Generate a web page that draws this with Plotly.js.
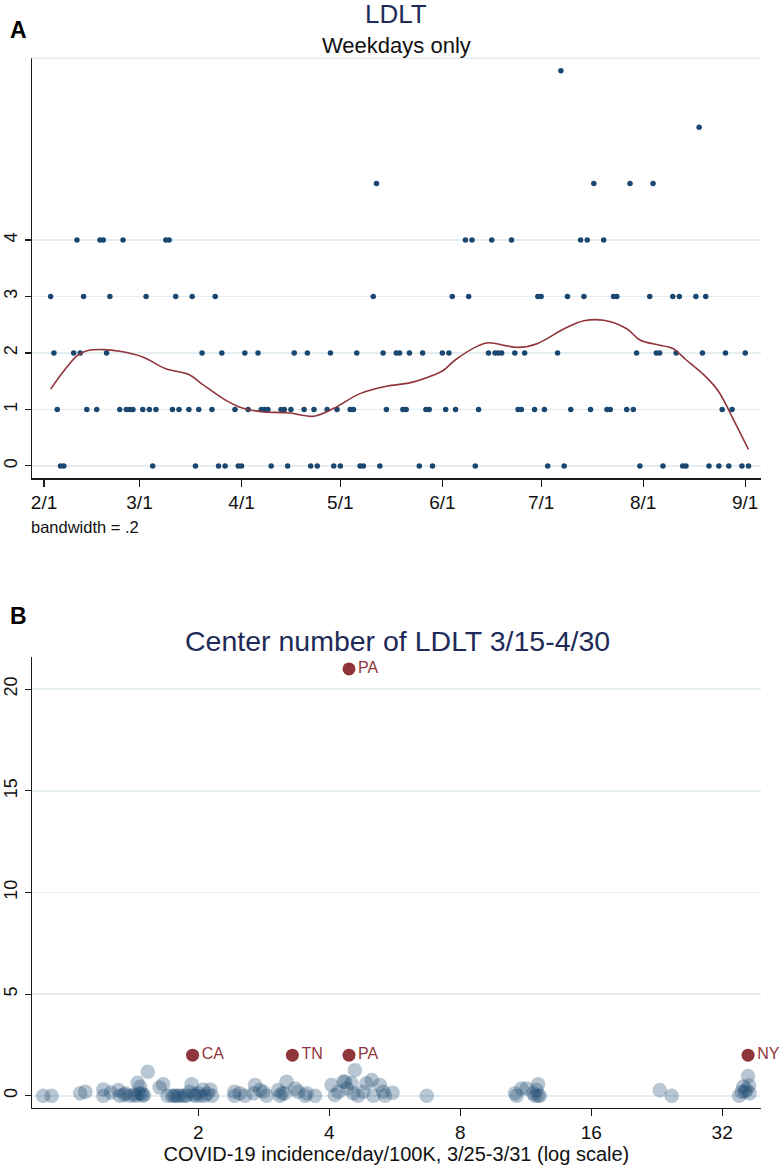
<!DOCTYPE html>
<html>
<head>
<meta charset="utf-8">
<script src="https://cdn.plot.ly/plotly-3.0.1.min.js"></script>
<style>
  html, body { margin: 0; padding: 0; background: #fff; }
  #plot { width: 780px; height: 1165px; }
</style>
</head>
<body>
<div id="plot"></div>
<script>
// Panel A: daily LDLT counts (weekdays), grouped by count
const days0 = ['2020-02-06','2020-02-07','2020-03-05','2020-03-18','2020-03-25','2020-03-27','2020-03-31','2020-04-01','2020-04-10','2020-04-15','2020-04-22','2020-04-24','2020-04-29','2020-05-01','2020-05-07','2020-05-08','2020-05-13','2020-05-25','2020-05-29','2020-06-11','2020-07-03','2020-07-08','2020-07-31','2020-08-07','2020-08-13','2020-08-14','2020-08-21','2020-08-24','2020-08-27','2020-08-31','2020-09-02'];
const days1 = ['2020-02-05','2020-02-14','2020-02-17','2020-02-24','2020-02-26','2020-02-27','2020-02-28','2020-03-02','2020-03-04','2020-03-06','2020-03-11','2020-03-13','2020-03-16','2020-03-19','2020-03-23','2020-03-30','2020-04-03','2020-04-07','2020-04-08','2020-04-09','2020-04-13','2020-04-14','2020-04-16','2020-04-20','2020-04-23','2020-04-27','2020-04-30','2020-05-04','2020-05-05','2020-05-15','2020-05-20','2020-05-21','2020-05-27','2020-05-28','2020-06-02','2020-06-05','2020-06-12','2020-06-24','2020-06-25','2020-06-29','2020-07-02','2020-07-10','2020-07-16','2020-07-21','2020-07-22','2020-07-27','2020-07-29','2020-08-25','2020-08-28'];
const days2 = ['2020-02-04','2020-02-10','2020-02-12','2020-02-20','2020-03-20','2020-03-26','2020-04-02','2020-04-06','2020-04-17','2020-04-21','2020-04-28','2020-05-06','2020-05-14','2020-05-18','2020-05-19','2020-05-22','2020-05-26','2020-06-01','2020-06-03','2020-06-15','2020-06-17','2020-06-18','2020-06-19','2020-06-23','2020-06-26','2020-07-06','2020-07-30','2020-08-05','2020-08-06','2020-08-11','2020-08-19','2020-08-26','2020-09-01'];
const days3 = ['2020-02-03','2020-02-13','2020-02-21','2020-03-03','2020-03-12','2020-03-17','2020-03-24','2020-05-11','2020-06-04','2020-06-09','2020-06-30','2020-07-01','2020-07-09','2020-07-14','2020-07-23','2020-07-24','2020-08-03','2020-08-10','2020-08-12','2020-08-17','2020-08-20'];
const days4 = ['2020-02-11','2020-02-18','2020-02-19','2020-02-25','2020-03-09','2020-03-10','2020-06-08','2020-06-10','2020-06-16','2020-06-22','2020-07-13','2020-07-15','2020-07-20'];
const days5 = ['2020-05-12','2020-07-17','2020-07-28','2020-08-04'];
const days6 = ['2020-08-18'];
const days7 = ['2020-07-07'];

// lowess smooth (bandwidth .2)
const smoothDates = ['2020-02-03','2020-02-07','2020-02-11','2020-02-14','2020-02-19','2020-02-24','2020-03-02','2020-03-09','2020-03-16','2020-03-20','2020-03-27','2020-04-01','2020-04-07','2020-04-15','2020-04-23','2020-04-29','2020-05-07','2020-05-15','2020-05-22','2020-05-28','2020-06-01','2020-06-05','2020-06-12','2020-06-15','2020-06-24','2020-06-30','2020-07-08','2020-07-14','2020-07-20','2020-07-27','2020-07-31','2020-08-05','2020-08-10','2020-08-14','2020-08-20','2020-08-24','2020-08-28','2020-09-02'];
const smoothVals = [1.36,1.68,1.95,2.04,2.06,2.03,1.93,1.72,1.62,1.45,1.17,1.03,0.96,0.94,0.88,1.02,1.28,1.41,1.47,1.58,1.68,1.88,2.13,2.18,2.10,2.17,2.43,2.57,2.58,2.43,2.23,2.15,2.08,1.88,1.58,1.31,0.87,0.29];

const monthTicks = ['2020-02-01','2020-03-01','2020-04-01','2020-05-01','2020-06-01','2020-07-01','2020-08-01','2020-09-01'];
const monthLabels = ['2/1','3/1','4/1','5/1','6/1','7/1','8/1','9/1'];

// Panel B: centers, incidence vs number of LDLT (jittered)
const incidence = [0.88,0.92,1.07,1.10,1.21,1.21,1.26,1.31,1.32,1.35,1.36,1.39,1.42,1.44,1.45,1.46,1.47,1.48,1.49,1.50,1.53,1.63,1.66,1.70,1.74,1.76,1.78,1.80,1.83,1.86,1.88,1.91,1.93,1.95,1.97,2.00,2.02,2.05,2.07,2.10,2.13,2.15,
  2.42,2.42,2.49,2.56,2.68,2.70,2.77,2.82,2.87,3.05,3.08,3.11,3.16,3.19,3.34,3.39,3.52,3.55,3.71,4.05,4.12,4.20,4.31,4.35,4.39,4.50,4.54,4.58,4.66,4.79,4.87,5.01,5.05,5.23,5.32,5.37,5.59,
  6.70,10.69,10.78,11.07,11.37,11.77,11.88,11.98,12.08,12.08,12.19,23.0,24.5,35.0,35.5,35.8,36.1,36.4,36.7,36.9,37.0];
const centerNum = [0,0,0.12,0.2,0.31,0,0.16,0.28,0,0.05,0.12,0,0.05,0,0.64,0.1,0.44,0.12,0,0.05,1.18,0.41,0.57,0,0,0,0,0,0,0,0,0.2,0.57,0.05,0,0.12,0,0.31,0,0.1,0.31,0,
  0.2,0,0.12,0,0.12,0.53,0.28,0.2,0,0.28,0,0.12,0.12,0.69,0.36,0.2,0,0.12,0,0.53,0.03,0.2,0.7,0.69,0.36,0.61,0.12,1.26,0,0.2,0.61,0.77,0,0.53,0.2,0,0.15,
  0,0.12,0,0.36,0.36,0.12,0,0.28,0.57,0,0,0.28,0,0,0.2,0.46,0.2,0.3,0.97,0.5,0.12];
const labIncidence = [4.44,1.94,3.29,4.44,36.7];
const labNum = [21,2,2,2,2];
const labState = ['PA','CA','TN','PA','NY'];

const logTicks = [2,4,8,16,32];

const W = 780, H = 1165;
const navy = '#1a476f', cran = '#90353b', grid = '#e4eef2', titleBlue = '#1e2b58';
const FONT = 'Liberation Sans, Arial, sans-serif';

// build panel A point lists
let ptX = [], ptY = [];
[days0, days1, days2, days3, days4, days5, days6, days7].forEach((arr, n) => {
  arr.forEach(d => { ptX.push(d); ptY.push(n); });
});

const traces = [
  {
    x: ptX, y: ptY, type: 'scatter', mode: 'markers',
    marker: { color: navy, size: 5.5 },
    xaxis: 'x', yaxis: 'y', hoverinfo: 'skip'
  },
  {
    x: smoothDates, y: smoothVals, type: 'scatter', mode: 'lines',
    line: { color: cran, width: 1.6, shape: 'spline', smoothing: 1 },
    xaxis: 'x', yaxis: 'y', hoverinfo: 'skip'
  },
  {
    x: incidence, y: centerNum, type: 'scatter', mode: 'markers',
    marker: { color: navy, size: 13, opacity: 0.3, line: { color: navy, width: 1.6 } },
    xaxis: 'x2', yaxis: 'y2', hoverinfo: 'skip', cliponaxis: false
  },
  {
    x: labIncidence, y: labNum, text: labState, type: 'scatter', mode: 'markers+text',
    textposition: 'middle right',
    textfont: { color: cran, size: 16, family: FONT },
    marker: { color: cran, size: 13 },
    xaxis: 'x2', yaxis: 'y2', hoverinfo: 'skip', cliponaxis: false
  }
];

const px = v => v / W;
const py = v => 1 - v / H;

const axisCommon = {
  showline: true, linecolor: '#1a1a1a', linewidth: 1.2,
  ticks: 'outside', ticklen: 7, tickcolor: '#1a1a1a', tickwidth: 1.2,
  tickfont: { family: FONT, size: 19, color: '#111' },
  zeroline: false
};
const yTickFont = { family: FONT, size: 18, color: '#111' };

const layout = {
  width: W, height: H,
  margin: { l: 0, r: 0, t: 0, b: 0 },
  paper_bgcolor: '#fff', plot_bgcolor: '#fff',
  showlegend: false,
  font: { family: FONT },
  xaxis: Object.assign({}, axisCommon, {
    domain: [px(31.7), px(761)], anchor: 'y', type: 'date',
    range: ['2020-01-28 06:00', '2020-09-05 19:00'],
    tickvals: monthTicks, ticktext: monthLabels,
    showgrid: false
  }),
  yaxis: Object.assign({}, axisCommon, {
    domain: [py(478.3), py(58.3)], anchor: 'x',
    range: [-0.22, 7.22],
    tickvals: [0, 1, 2, 3, 4], ticktext: ['0', '1', '2', '3', '4'],
    tickangle: -90, ticklen: 6, tickfont: yTickFont,
    showgrid: true, gridcolor: grid, gridwidth: 1.5
  }),
  xaxis2: Object.assign({}, axisCommon, {
    domain: [px(31.7), px(761)], anchor: 'y2', type: 'log',
    range: [Math.log10(0.828), Math.log10(39.3)],
    tickvals: logTicks, ticktext: logTicks.map(String),
    showgrid: false,
    title: { text: 'COVID-19 incidence/day/100K, 3/25-3/31 (log scale)', font: { family: FONT, size: 20, color: '#111' }, standoff: 0 }
  }),
  yaxis2: Object.assign({}, axisCommon, {
    domain: [py(1108), py(656.7)], anchor: 'x2',
    range: [-0.6, 21.6],
    tickvals: [0, 5, 10, 15, 20], ticktext: ['0', '5', '10', '15', '20'],
    tickangle: -90, ticklen: 6, tickfont: yTickFont,
    showgrid: true, gridcolor: grid, gridwidth: 1.5
  }),
  shapes: [
    { type: 'line', xref: 'paper', yref: 'paper', x0: px(31.7), x1: px(761), y0: py(58.3), y1: py(58.3),
      line: { color: grid, width: 1.5 } }
  ],
  annotations: [
    { text: '<b>A</b>', x: px(18), y: py(30), xref: 'paper', yref: 'paper', showarrow: false,
      xanchor: 'center', yanchor: 'middle', font: { family: FONT, size: 23, color: '#000' } },
    { text: 'LDLT', x: px(396), y: py(14), xref: 'paper', yref: 'paper', showarrow: false,
      xanchor: 'center', yanchor: 'middle', font: { family: FONT, size: 26, color: titleBlue } },
    { text: 'Weekdays only', x: px(396), y: py(45), xref: 'paper', yref: 'paper', showarrow: false,
      xanchor: 'center', yanchor: 'middle', font: { family: FONT, size: 22, color: '#111' } },
    { text: 'bandwidth = .2', x: px(29), y: py(527), xref: 'paper', yref: 'paper', showarrow: false,
      xanchor: 'left', yanchor: 'middle', font: { family: FONT, size: 16.5, color: '#111' } },
    { text: '<b>B</b>', x: px(18), y: py(616), xref: 'paper', yref: 'paper', showarrow: false,
      xanchor: 'center', yanchor: 'middle', font: { family: FONT, size: 23, color: '#000' } },
    { text: 'Center number of LDLT 3/15-4/30', x: px(397), y: py(641), xref: 'paper', yref: 'paper', showarrow: false,
      xanchor: 'center', yanchor: 'middle', font: { family: FONT, size: 28.5, color: titleBlue } }
  ]
};

Plotly.newPlot('plot', traces, layout, { displayModeBar: false, staticPlot: true });
</script>
</body>
</html>
